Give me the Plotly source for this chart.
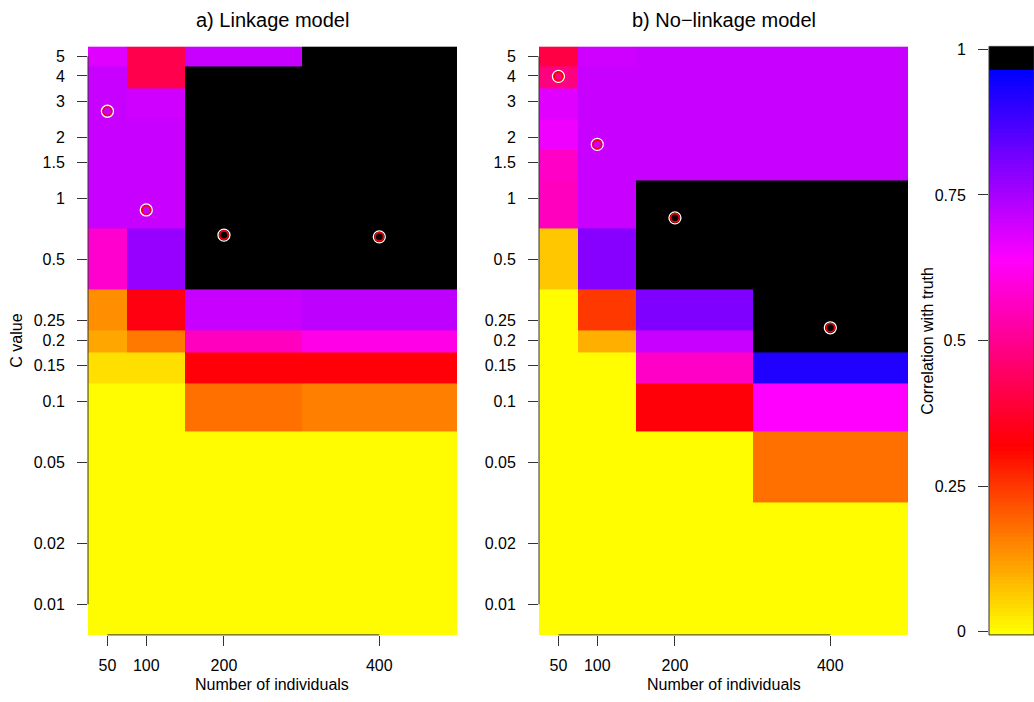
import numpy as np
import plotly.graph_objects as go

W, H = 1034, 702

# ---------------- data ----------------
n_individuals = [50, 100, 200, 400]
n_tick_labels = ["50", "100", "200", "400"]
c_values = [5, 4, 3, 2, 1.5, 1, 0.5, 0.25, 0.2, 0.15, 0.1, 0.05, 0.02, 0.01]
c_tick_labels = ["5", "4", "3", "2", "1.5", "1", "0.5", "0.25", "0.2",
                 "0.15", "0.1", "0.05", "0.02", "0.01"]

# correlation with truth; rows follow c_values, columns follow n_individuals
corr_linkage = [
    [0.680, 0.415, 0.710, 0.980],   # 5
    [0.710, 0.415, 0.980, 0.980],   # 4
    [0.710, 0.700, 0.980, 0.980],   # 3
    [0.710, 0.710, 0.980, 0.980],   # 2
    [0.710, 0.710, 0.980, 0.980],   # 1.5
    [0.710, 0.710, 0.980, 0.980],   # 1
    [0.580, 0.770, 0.980, 0.980],   # 0.5
    [0.140, 0.340, 0.710, 0.722],   # 0.25
    [0.110, 0.170, 0.560, 0.610],   # 0.2
    [0.040, 0.040, 0.330, 0.330],   # 0.15
    [0.005, 0.005, 0.179, 0.160],   # 0.1
    [0.005, 0.005, 0.005, 0.005],   # 0.05
    [0.005, 0.005, 0.005, 0.005],   # 0.02
    [0.005, 0.005, 0.005, 0.005],   # 0.01
]
corr_nolinkage = [
    [0.405, 0.700, 0.710, 0.710],   # 5
    [0.480, 0.710, 0.710, 0.710],   # 4
    [0.680, 0.710, 0.710, 0.710],   # 3
    [0.660, 0.710, 0.710, 0.710],   # 2
    [0.570, 0.710, 0.710, 0.710],   # 1.5
    [0.560, 0.710, 0.980, 0.980],   # 1
    [0.070, 0.790, 0.980, 0.980],   # 0.5
    [0.003, 0.250, 0.800, 0.980],   # 0.25
    [0.003, 0.100, 0.710, 0.980],   # 0.2
    [0.003, 0.003, 0.570, 0.920],   # 0.15
    [0.003, 0.003, 0.330, 0.640],   # 0.1
    [0.003, 0.003, 0.003, 0.179],   # 0.05
    [0.003, 0.003, 0.003, 0.003],   # 0.02
    [0.003, 0.003, 0.003, 0.003],   # 0.01
]
# estimated C for each sample size (circles)
best_c_linkage = [2.68, 0.875, 0.658, 0.645]
best_c_nolinkage = [3.98, 1.84, 0.80, 0.230]

colorbar_ticks = [0, 0.25, 0.5, 0.75, 1]
colorbar_tick_labels = ["0", "0.25", "0.5", "0.75", "1"]

# ---------------- styling ----------------
colorscale = [
    [0.00, "#FFFF00"],
    [0.32, "#FF0000"],
    [0.64, "#FF00FF"],
    [0.96, "#0000FF"],
    [0.96, "#000000"],
    [1.00, "#000000"],
]
FONT = "Liberation Sans, Arial, sans-serif"
TXT = "#000000"
AX = "#333333"


def px_x(p):
    return p / W


def px_y(p):
    return 1 - p / H


logc = np.log10(c_values)
y_range = [logc[-1] - (logc[-2] - logc[-1]) / 2, logc[0] + (logc[0] - logc[1]) / 2]
x_range = [n_individuals[0] - (n_individuals[1] - n_individuals[0]) / 2,
           n_individuals[-1] + (n_individuals[-1] - n_individuals[-2]) / 2]

ydom = [px_y(639), px_y(42)]
xdom_a = [px_x(88), px_x(457)]
xdom_b = [px_x(539), px_x(908)]
xdom_c = [px_x(989), 1.0]

fig = go.Figure()

panels = [
    ("x", "y", corr_linkage, best_c_linkage),
    ("x2", "y2", corr_nolinkage, best_c_nolinkage),
]
for xa, ya, z, best in panels:
    fig.add_trace(go.Heatmap(
        x=n_individuals, y=logc, z=z, zmin=0, zmax=1,
        colorscale=colorscale, showscale=False, xaxis=xa, yaxis=ya,
        hoverinfo="skip",
    ))
    fig.add_trace(go.Scatter(
        x=n_individuals, y=np.log10(best), mode="markers", xaxis=xa, yaxis=ya,
        marker=dict(symbol="circle-open", size=12, color="white",
                    line=dict(width=1.3, color="white")),
        showlegend=False, hoverinfo="skip",
    ))
    fig.add_trace(go.Scatter(
        x=n_individuals, y=np.log10(best), mode="markers", xaxis=xa, yaxis=ya,
        marker=dict(symbol="circle-open", size=8.5, color="#FF0000",
                    line=dict(width=1.6, color="#FF0000")),
        showlegend=False, hoverinfo="skip",
    ))

# colour key as its own small heatmap
n_levels = 150
cb_lo, cb_hi = -0.0056, 1.0051
cb_edges = np.linspace(cb_lo, cb_hi, n_levels + 1)
cb_z = [[v] for v in np.linspace(0, 1, n_levels)]
fig.add_trace(go.Heatmap(
    x=[0, 1], y=cb_edges, z=cb_z, zmin=0, zmax=1, colorscale=colorscale,
    showscale=False, xaxis="x3", yaxis="y3", hoverinfo="skip",
))

tickfont = dict(family=FONT, size=16, color=TXT)
xcommon = dict(range=x_range, tickvals=n_individuals, ticktext=n_tick_labels,
               ticks="outside", ticklen=10, tickwidth=1, tickcolor=AX,
               showgrid=False, zeroline=False, showline=False,
               tickfont=tickfont, ticklabelstandoff=6)
ycommon = dict(range=y_range, tickvals=list(logc), ticktext=c_tick_labels,
               ticks="outside", ticklen=10, tickwidth=1, tickcolor=AX,
               showgrid=False, zeroline=False, showline=False,
               tickfont=tickfont, ticklabelstandoff=9)

fig.update_layout(
    width=W, height=H, margin=dict(l=0, r=0, t=0, b=0),
    paper_bgcolor="white", plot_bgcolor="white", showlegend=False,
    font=dict(family=FONT, size=16, color=TXT),
    xaxis=dict(domain=xdom_a, anchor="y", **xcommon),
    yaxis=dict(domain=ydom, anchor="x", **ycommon),
    xaxis2=dict(domain=xdom_b, anchor="y2", **xcommon),
    yaxis2=dict(domain=ydom, anchor="x2", **ycommon),
    xaxis3=dict(domain=xdom_c, anchor="y3", range=[0, 1], visible=False),
    yaxis3=dict(domain=ydom, anchor="x3", range=[cb_lo, cb_hi], side="left",
                tickvals=colorbar_ticks, ticktext=colorbar_tick_labels,
                ticks="outside", ticklen=10, tickwidth=1, tickcolor=AX,
                showgrid=False, zeroline=False, showline=False,
                tickfont=tickfont, ticklabelstandoff=9),
)

shapes = []
for xa, ya in [("x", "y"), ("x2", "y2")]:
    shapes.append(dict(type="line", xref=xa, yref=f"{ya} domain",
                       x0=n_individuals[0], x1=n_individuals[-1], y0=0, y1=0,
                       line=dict(color=AX, width=1)))
    shapes.append(dict(type="line", xref=f"{xa} domain", yref=ya,
                       x0=0, x1=0, y0=logc[-1], y1=logc[0],
                       line=dict(color=AX, width=1)))
shapes.append(dict(type="rect", xref="x3 domain", yref="y3 domain",
                   x0=0, x1=1, y0=0, y1=1, line=dict(color=AX, width=1)))
fig.update_layout(shapes=shapes)

ann = []
for xd, title in [(xdom_a, "a) Linkage model"), (xdom_b, "b) No\u2212linkage model")]:
    xc = (xd[0] + xd[1]) / 2
    ann.append(dict(text=title, x=xc, y=px_y(15), xref="paper", yref="paper",
                    showarrow=False, xanchor="center", yanchor="middle",
                    font=dict(family=FONT, size=20, color=TXT)))
    ann.append(dict(text="Number of individuals", x=xc, y=px_y(689),
                    xref="paper", yref="paper", showarrow=False,
                    xanchor="center", yanchor="middle",
                    font=dict(family=FONT, size=16, color=TXT)))
ann.append(dict(text="C value", x=px_x(17), y=(ydom[0] + ydom[1]) / 2,
                xref="paper", yref="paper", showarrow=False, textangle=-90,
                xanchor="center", yanchor="middle",
                font=dict(family=FONT, size=16, color=TXT)))
ann.append(dict(text="Correlation with truth", x=px_x(928), y=(ydom[0] + ydom[1]) / 2,
                xref="paper", yref="paper", showarrow=False, textangle=-90,
                xanchor="center", yanchor="middle",
                font=dict(family=FONT, size=16, color=TXT)))
fig.update_layout(annotations=ann)

fig.write_html("out.html")
